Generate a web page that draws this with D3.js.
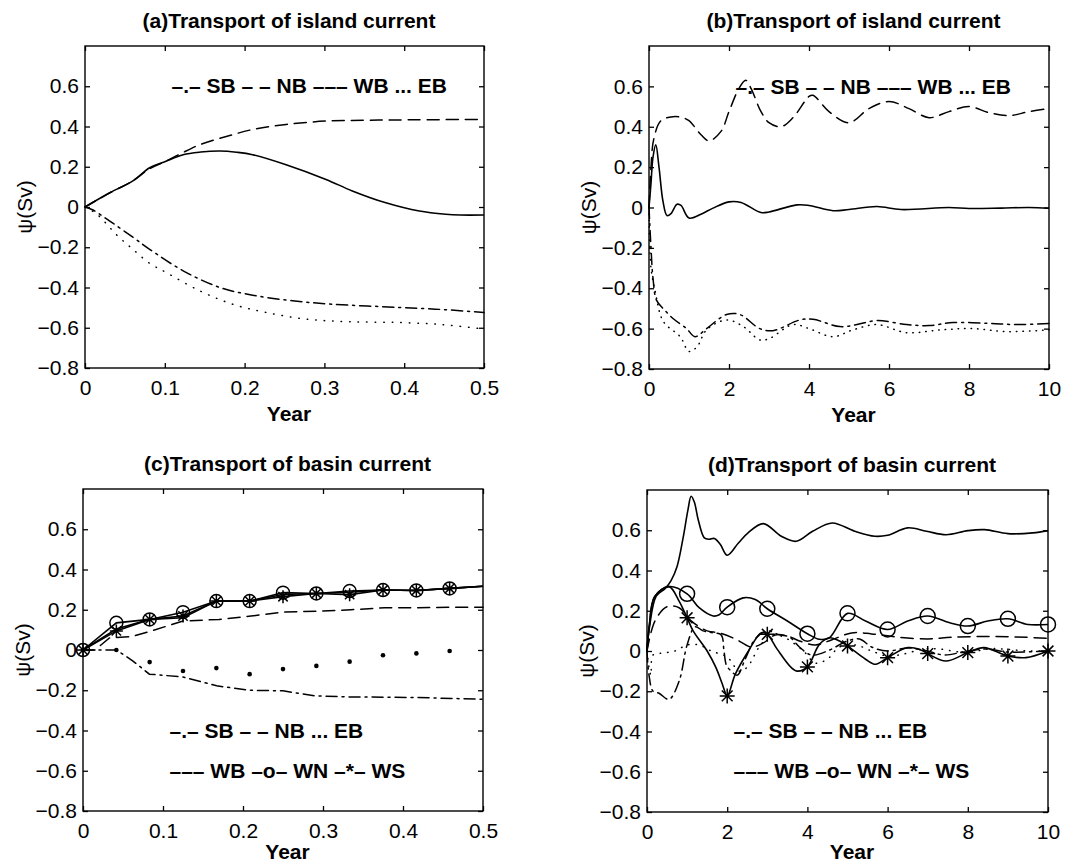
<!DOCTYPE html>
<html>
<head>
<meta charset="utf-8">
<script src="https://cdn.jsdelivr.net/npm/d3@7"></script>
<style>
  body { margin: 0; background: #fff; }
  text { font-family: "Liberation Sans", Arial, Helvetica, sans-serif; fill: #000; }
</style>
</head>
<body>
<svg id="fig" width="1078" height="865"></svg>
<script>
// ---- panel (a): island current, first half year ----
var aWB = [[0,0],[0.031,0.071],[0.06,0.13],[0.081,0.195],[0.1,0.225],[0.123,0.26],[0.145,0.273],[0.169,0.278],[0.19,0.272],[0.21,0.26],[0.252,0.21],[0.302,0.137],[0.335,0.08],[0.377,0.021],[0.419,-0.02],[0.452,-0.036],[0.47,-0.04],[0.5,-0.04]];
var aNB = [[0,0],[0.031,0.07],[0.06,0.13],[0.081,0.19],[0.1,0.225],[0.12,0.265],[0.144,0.31],[0.177,0.35],[0.21,0.385],[0.252,0.41],[0.302,0.427],[0.352,0.431],[0.4,0.433],[0.5,0.435]];
var aSB = [[0,0],[0.01,-0.015],[0.031,-0.07],[0.06,-0.15],[0.081,-0.21],[0.123,-0.317],[0.169,-0.4],[0.21,-0.438],[0.26,-0.466],[0.31,-0.483],[0.394,-0.499],[0.45,-0.51],[0.5,-0.524]];
var aEB = [[0,0],[0.015,-0.036],[0.04,-0.14],[0.06,-0.21],[0.081,-0.28],[0.102,-0.326],[0.144,-0.417],[0.185,-0.483],[0.227,-0.524],[0.277,-0.557],[0.331,-0.57],[0.394,-0.574],[0.45,-0.585],[0.5,-0.607]];

// ---- panel (b): island current, ten years ----
var bWB = [[0,0],[0.05,0.12],[0.1,0.25],[0.17,0.31],[0.25,0.2],[0.35,0.03],[0.45,-0.04],[0.55,-0.03],[0.7,0.016],[0.8,0.01],[1.0,-0.052],[1.3,-0.033],[1.6,-0.003],[2.0,0.028],[2.3,0.025],[2.8,-0.025],[3.0,-0.022],[3.7,0.013],[4.0,0.01],[4.6,-0.016],[5.0,-0.01],[5.7,0.005],[6.3,-0.01],[7.5,0],[8.0,-0.005],[8.8,-0.003],[9.5,0],[10,-0.004]];
var bNB = [[0,0],[0.05,0.2],[0.12,0.34],[0.3,0.43],[0.6,0.45],[0.8,0.447],[1.0,0.43],[1.3,0.36],[1.5,0.33],[1.8,0.377],[2.0,0.475],[2.25,0.59],[2.42,0.63],[2.55,0.59],[2.8,0.475],[3.0,0.42],[3.3,0.4],[3.6,0.445],[4.0,0.55],[4.1,0.556],[4.5,0.475],[5.0,0.42],[5.5,0.49],[6.0,0.525],[6.5,0.49],[7.0,0.445],[7.5,0.475],[8.0,0.5],[8.5,0.47],[9.0,0.455],[9.5,0.475],[10,0.49]];
var bSB = [[0,0],[0.05,-0.2],[0.1,-0.35],[0.19,-0.46],[0.4,-0.51],[0.6,-0.55],[0.94,-0.6],[1.15,-0.64],[1.44,-0.6],[1.94,-0.53],[2.27,-0.53],[2.77,-0.6],[3.1,-0.61],[3.77,-0.557],[4.1,-0.554],[4.77,-0.59],[5.2,-0.58],[5.7,-0.56],[6.44,-0.58],[7.0,-0.585],[7.6,-0.57],[8.5,-0.574],[9.2,-0.58],[10,-0.574]];
var bEB = [[0,0],[0.05,-0.3],[0.15,-0.41],[0.36,-0.565],[0.78,-0.64],[1.0,-0.713],[1.2,-0.69],[1.44,-0.606],[1.94,-0.557],[2.36,-0.59],[2.77,-0.656],[3.0,-0.65],[3.6,-0.58],[4.0,-0.6],[4.6,-0.64],[5.1,-0.606],[5.7,-0.58],[6.44,-0.62],[7.3,-0.606],[8.1,-0.6],[8.94,-0.615],[10,-0.606]];

// ---- panel (c): basin current, first half year (monthly samples) ----
var cYear = [0,0.0417,0.0833,0.125,0.1667,0.2083,0.25,0.2917,0.3333,0.375,0.4167,0.4583,0.5];
var cWB = [0,0.105,0.152,0.16,0.243,0.243,0.276,0.281,0.287,0.298,0.296,0.306,0.317];
var cWN = [0,0.135,0.152,0.188,0.243,0.243,0.285,0.281,0.293,0.298,0.296,0.306,0.317];
var cWS = [0,0.095,0.152,0.169,0.243,0.243,0.265,0.281,0.275,0.298,0.296,0.306,0.317];
var cEB = [0,0,-0.06,-0.104,-0.09,-0.12,-0.095,-0.079,-0.058,-0.026,-0.017,-0.005];
var cNB = [[0,0],[0.015,0],[0.033,0.06],[0.06,0.066],[0.085,0.094],[0.125,0.144],[0.17,0.152],[0.21,0.169],[0.25,0.188],[0.296,0.193],[0.335,0.2],[0.377,0.21],[0.419,0.21],[0.46,0.213],[0.5,0.213]];
var cSB = [[0,0],[0.042,0],[0.0625,-0.055],[0.083,-0.12],[0.125,-0.134],[0.167,-0.178],[0.208,-0.2],[0.25,-0.203],[0.29,-0.228],[0.333,-0.233],[0.417,-0.236],[0.5,-0.245]];

// ---- panel (d): basin current, ten years ----
var dWB = [[0,0],[0.06,0.116],[0.23,0.273],[0.45,0.31],[0.6,0.35],[0.75,0.42],[0.9,0.562],[1.02,0.7],[1.1,0.769],[1.18,0.74],[1.28,0.65],[1.43,0.562],[1.55,0.555],[1.68,0.559],[1.83,0.529],[2.0,0.476],[2.28,0.537],[2.52,0.587],[2.9,0.633],[3.35,0.57],[3.72,0.545],[4.13,0.595],[4.62,0.636],[5.18,0.595],[5.68,0.57],[6.0,0.575],[6.5,0.612],[6.97,0.595],[7.46,0.578],[8.0,0.598],[8.42,0.603],[9.0,0.583],[9.62,0.587],[10,0.598]];
var dWN = [[0,0],[0.06,0.13],[0.19,0.27],[0.55,0.32],[1.0,0.284],[1.3,0.215],[1.65,0.174],[1.8,0.18],[2.0,0.218],[2.4,0.264],[2.7,0.256],[3.0,0.21],[3.5,0.149],[4.0,0.086],[4.3,0.058],[4.55,0.066],[5.0,0.187],[5.45,0.149],[6.0,0.107],[6.5,0.149],[7.0,0.174],[7.55,0.14],[8.0,0.124],[8.5,0.149],[9.0,0.16],[9.5,0.132],[10,0.132]];
var dWS = [[0,0],[0.06,0.13],[0.19,0.27],[0.55,0.32],[0.8,0.248],[1.0,0.165],[1.15,0.1],[1.5,0],[1.72,-0.083],[1.88,-0.165],[2.0,-0.223],[2.2,-0.116],[2.53,0],[2.85,0.091],[3.0,0.083],[3.25,0.008],[3.6,-0.083],[3.75,-0.1],[4.0,-0.079],[4.3,0.033],[4.55,0.066],[4.8,0.05],[5.0,0.025],[5.45,-0.041],[5.7,-0.066],[6.0,-0.033],[6.5,0.017],[6.8,0.008],[7.0,-0.013],[7.45,-0.05],[8.0,-0.008],[8.4,0.017],[9.0,-0.025],[9.45,-0.033],[10,0]];
var dNB = [[0,0],[0.2,0.15],[0.5,0.22],[0.8,0.215],[1.1,0.15],[1.5,0.1],[1.8,0.09],[2.2,0.06],[2.6,0.02],[2.9,0.04],[3.2,0.08],[3.5,0.075],[3.8,0.05],[4.2,0.03],[4.6,0.055],[5.1,0.09],[5.6,0.085],[6.2,0.07],[7.0,0.06],[7.6,0.068],[8.4,0.072],[9.2,0.07],[10,0.063]];
var dSB = [[0,0],[0.05,-0.12],[0.15,-0.2],[0.3,-0.21],[0.55,-0.24],[0.8,-0.15],[1.0,0.03],[1.2,0.12],[1.4,0.1],[1.65,0.09],[1.85,0.08],[1.92,0],[1.98,-0.07],[2.1,-0.1],[2.25,-0.12],[2.45,-0.04],[2.7,0.06],[3.0,0.1],[3.3,0.08],[3.55,0.07],[3.8,0.02],[4.1,-0.02],[4.5,0],[5.0,0.05],[5.3,0.06],[5.6,0.02],[6.0,0],[6.5,0.015],[7.0,0],[7.4,-0.02],[8.0,0],[8.5,0.01],[9.0,-0.005],[10,0]];
var dEB = [[0,0],[0.05,-0.08],[0.1,-0.12],[0.15,-0.02],[0.4,-0.01],[0.7,0],[1.0,0.03],[1.3,0.03],[1.6,0],[2.0,-0.03],[2.3,-0.1],[2.5,-0.08],[2.8,0.02],[3.1,0.08],[3.4,0.07],[3.9,0],[4.2,-0.06],[4.5,-0.04],[4.8,0.02],[5.2,0.03],[5.6,0],[6.0,-0.025],[6.4,-0.015],[6.9,0.01],[7.3,0.01],[7.8,-0.005],[8.2,0],[8.6,0.012],[9.0,0.008],[9.5,0],[10,0]];
var dMarkYear = [1,2,3,4,5,6,7,8,9,10];
var dWNmark = [0.284,0.218,0.21,0.086,0.187,0.107,0.174,0.124,0.16,0.132];
var dWSmark = [0.165,-0.223,0.083,-0.079,0.025,-0.033,-0.013,-0.008,-0.025,0];

// ---- ticks and labels ----
var yTicks = [-0.8,-0.6,-0.4,-0.2,0,0.2,0.4,0.6];
var xTicksShort = [0,0.1,0.2,0.3,0.4,0.5];
var xTicksLong = [0,2,4,6,8,10];
var legendIsland = ['–.– SB – – NB ––– WB ... EB'];
var legendBasin = ['–.– SB – – NB ... EB', '––– WB –o– WN –*– WS'];

var zip = function(xs, ys) { return ys.map(function(v, i) { return [xs[i], v]; }); };

var DASH = '12,7', DASHDOT = '11,5,2,5', DOT = '0.5,7';

var panels = [
  { left: 85, top: 46, width: 399, height: 322, xmax: 0.5, xticks: xTicksShort, yearGap: 53,
    title: '(a)Transport of island current', legend: legendIsland, legendY: [47],
    curve: d3.curveCatmullRom.alpha(0.5),
    series: [{ d: aWB }, { d: aNB, dash: DASH }, { d: aSB, dash: DASHDOT }, { d: aEB, dash: '0.5,8' }] },
  { left: 649, top: 46, width: 400, height: 323, xmax: 10, xticks: xTicksLong, yearGap: 53,
    title: '(b)Transport of island current', legend: legendIsland, legendY: [48],
    curve: d3.curveCatmullRom.alpha(0.5),
    series: [{ d: bWB }, { d: bNB, dash: DASH }, { d: bSB, dash: DASHDOT }, { d: bEB, dash: '0.5,6' }] },
  { left: 83, top: 489, width: 400, height: 322, xmax: 0.5, xticks: xTicksShort, yearGap: 48,
    title: '(c)Transport of basin current', legend: legendBasin, legendY: [249, 289],
    curve: d3.curveLinear,
    series: [{ d: zip(cYear, cWB) }, { d: zip(cYear, cWN) }, { d: zip(cYear, cWS) },
             { d: cNB, dash: DASH }, { d: cSB, dash: DASHDOT }],
    dots: zip(cYear, cEB),
    circles: zip(cYear.slice(0, 12), cWN.slice(0, 12)),
    stars: zip(cYear.slice(0, 12), cWS.slice(0, 12)), markR: 6.5 },
  { left: 647, top: 490, width: 401, height: 322, xmax: 10, xticks: xTicksLong, yearGap: 47,
    title: '(d)Transport of basin current', legend: legendBasin, legendY: [248, 288],
    curve: d3.curveCatmullRom.alpha(0.5),
    series: [{ d: dWB }, { d: dWN }, { d: dWS },
             { d: dNB, dash: DASH }, { d: dSB, dash: DASHDOT }, { d: dEB, dash: DOT }],
    circles: zip(dMarkYear, dWNmark), stars: zip(dMarkYear, dWSmark), markR: 7.5 }
];

var svg = d3.select('#fig');

var fmtY = function(v) { return v === 0 ? '0' : d3.format('.1f')(v); };
var fmtX = function(v) { return v === 0 ? '0' : (v < 1 ? d3.format('.1f')(v) : d3.format('d')(v)); };

var drawPanel = function(p) {
  var g = svg.append('g');
  var x = d3.scaleLinear().domain([0, p.xmax]).range([p.left, p.left + p.width]);
  var y = d3.scaleLinear().domain([-0.8, 0.8]).range([p.top + p.height, p.top]);
  var line = d3.line().x(function(d) { return x(d[0]); }).y(function(d) { return y(d[1]); }).curve(p.curve);

  p.series.forEach(function(s) {
    g.append('path')
      .datum(s.d)
      .attr('d', line)
      .attr('fill', 'none')
      .attr('stroke', '#000')
      .attr('stroke-width', s.dash ? 1.5 : 1.6)
      .attr('stroke-linecap', s.dash ? 'round' : 'butt')
      .attr('stroke-dasharray', s.dash || null);
  });

  if (p.dots) {
    g.selectAll('.dot').data(p.dots).enter().append('circle')
      .attr('cx', function(d) { return x(d[0]); })
      .attr('cy', function(d) { return y(d[1]); })
      .attr('r', 2.3).attr('fill', '#000');
  }
  if (p.circles) {
    g.selectAll('.ring').data(p.circles).enter().append('circle')
      .attr('cx', function(d) { return x(d[0]); })
      .attr('cy', function(d) { return y(d[1]); })
      .attr('r', p.markR).attr('fill', 'none').attr('stroke', '#000').attr('stroke-width', 1.5);
  }
  if (p.stars) {
    var r = p.markR, k = r * 0.72;
    var star = 'M' + (-r) + ',0H' + r + 'M0,' + (-r) + 'V' + r +
               'M' + (-k) + ',' + (-k) + 'L' + k + ',' + k + 'M' + (-k) + ',' + k + 'L' + k + ',' + (-k);
    g.selectAll('.star').data(p.stars).enter().append('path')
      .attr('transform', function(d) { return 'translate(' + x(d[0]) + ',' + y(d[1]) + ')'; })
      .attr('d', star).attr('fill', 'none').attr('stroke', '#000').attr('stroke-width', 1.5);
  }

  var fontAxis = function(sel) {
    sel.attr('font-size', 21).attr('font-family', '"Liberation Sans", Arial, sans-serif');
    sel.select('.domain').remove();
    sel.selectAll('.tick line').attr('stroke', '#000').attr('stroke-width', 1.3);
  };

  g.append('g').attr('transform', 'translate(0,' + (p.top + p.height) + ')')
    .call(d3.axisBottom(x).tickValues(p.xticks).tickFormat(fmtX).tickSize(-5).tickPadding(12))
    .call(fontAxis);
  g.append('g').attr('transform', 'translate(0,' + p.top + ')')
    .call(d3.axisTop(x).tickValues(p.xticks).tickFormat('').tickSize(-5))
    .call(fontAxis);
  g.append('g').attr('transform', 'translate(' + p.left + ',0)')
    .call(d3.axisLeft(y).tickValues(yTicks).tickFormat(fmtY).tickSize(-5).tickPadding(6))
    .call(fontAxis);
  g.append('g').attr('transform', 'translate(' + (p.left + p.width) + ',0)')
    .call(d3.axisRight(y).tickValues(yTicks).tickFormat('').tickSize(-5))
    .call(fontAxis);

  g.append('rect')
    .attr('x', p.left).attr('y', p.top).attr('width', p.width).attr('height', p.height)
    .attr('fill', 'none').attr('stroke', '#000').attr('stroke-width', 1.4);

  var cx = p.left + p.width / 2 + 4.5;
  g.append('text').attr('x', cx).attr('y', p.top - 18)
    .attr('text-anchor', 'middle').attr('font-size', 21).attr('font-weight', 'bold')
    .text(p.title);
  g.append('text').attr('x', cx).attr('y', p.top + p.height + p.yearGap)
    .attr('text-anchor', 'middle').attr('font-size', 21).attr('font-weight', 'bold')
    .text('Year');
  g.append('text')
    .attr('transform', 'translate(' + (p.left - 53) + ',' + (p.top + p.height / 2) + ') rotate(-90)')
    .attr('text-anchor', 'middle').attr('font-size', 21)
    .text('ψ(Sv)');

  p.legend.forEach(function(s, i) {
    g.append('text').attr('x', p.left + 86.5).attr('y', p.top + p.legendY[i])
      .attr('font-size', 21).attr('font-weight', 'bold')
      .attr('xml:space', 'preserve').style('white-space', 'pre')
      .text(s);
  });
};

panels.forEach(drawPanel);
</script>
</body>
</html>
